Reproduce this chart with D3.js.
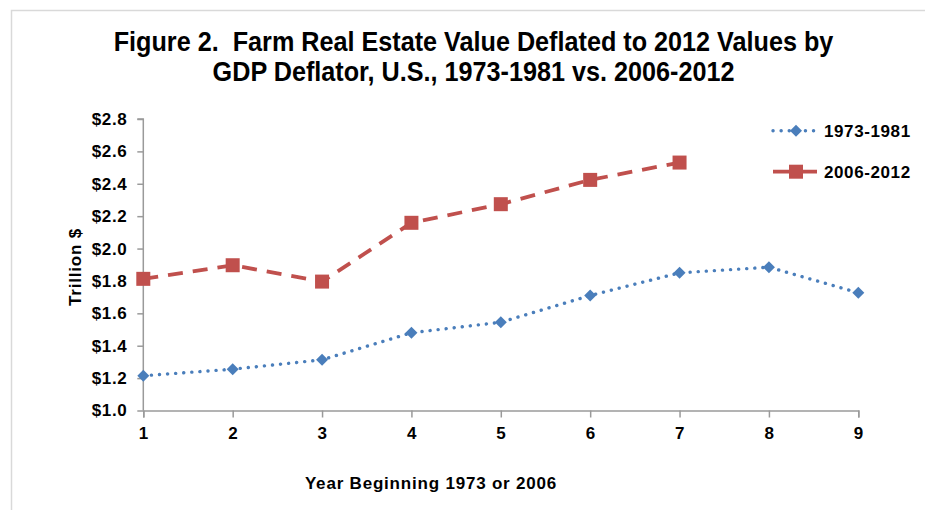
<!DOCTYPE html>
<html><head><meta charset="utf-8">
<script src="https://cdn.jsdelivr.net/npm/d3@7"></script>
<style>body{margin:0;background:#fff}svg{display:block}</style>
</head><body>
<script>
const years = [1,2,3,4,5,6,7,8,9];
const series1973 = [1.215,1.255,1.313,1.48,1.545,1.71,1.85,1.885,1.727];
const series2006 = [1.813,1.897,1.796,2.159,2.274,2.424,2.531];
const yTicks = [1.0,1.2,1.4,1.6,1.8,2.0,2.2,2.4,2.6,2.8];
const seriesNames = ["1973-1981","2006-2012"];
const titleLines = ["Figure 2.\u00a0 Farm Real Estate Value Deflated to 2012 Values by","GDP Deflator, U.S., 1973-1981 vs. 2006-2012"];

const W=925,H=510;
const svg=d3.select("body").append("svg").attr("width",W).attr("height",H);
svg.append("rect").attr("x",11.5).attr("y",10.5).attr("width",W).attr("height",H).attr("fill","none").attr("stroke","#d9d9d9").attr("stroke-width",1.5);

const x=d3.scaleLinear().domain([1,9]).range([143.3,858.3]);
const y=d3.scaleLinear().domain([1.0,2.8]).range([410.5,119]);
const axisColor="#9a9a9a";
const font="Liberation Sans, Arial, sans-serif";

// title (condensed bold)
svg.append("g").selectAll("text").data(titleLines).join("text")
  .attr("transform",(d,i)=>`translate(473.5,${51+i*30}) scale(0.9,1)`).attr("text-anchor","middle")
  .attr("font-family",font).attr("font-weight","bold")
  .attr("font-size",28).attr("fill","#000").text(d=>d);

// axes
const yAxis=d3.axisLeft(y).tickValues(yTicks).tickSize(6).tickFormat(d=>"$"+d.toFixed(1));
const gy=svg.append("g").attr("transform",`translate(${x(1)},0)`).call(yAxis);
const xAxis=d3.axisBottom(x).tickValues(years).tickSize(7).tickFormat(d3.format("d"));
const gx=svg.append("g").attr("transform",`translate(0,${y(1.0)})`).call(xAxis);
[gx,gy].forEach(g=>{
  g.select(".domain").attr("stroke",axisColor).attr("stroke-width",1.5);
  g.selectAll(".tick line").attr("stroke",axisColor).attr("stroke-width",1.5);
  g.selectAll("text").attr("font-family",font).attr("font-weight","bold").attr("font-size",17)
    .attr("letter-spacing",0.6).attr("fill","#000");
});
gy.select(".domain").attr("d",`M-6,${y(2.8)}H0V${y(1.0)}`);
gy.selectAll(".tick text").attr("x",-16);
gx.selectAll(".tick text").attr("y",16);

// axis titles
svg.append("text").attr("transform",`translate(81,267) rotate(-90)`).attr("text-anchor","middle")
  .attr("font-family",font).attr("font-weight","bold").attr("font-size",17).attr("letter-spacing",0.8).text("Trillion $");
svg.append("text").attr("x",431).attr("y",489).attr("text-anchor","middle")
  .attr("font-family",font).attr("font-weight","bold").attr("font-size",17).attr("letter-spacing",0.8).text("Year Beginning 1973 or 2006");

const blue="#4a7ebb", red="#c0504d";
const line=d3.line().x(d=>x(d[0])).y(d=>y(d[1]));
const d1=years.map((yr,i)=>[yr,series1973[i]]);
const d2=series2006.map((v,i)=>[years[i],v]);

svg.append("path").datum(d1).attr("d",line).attr("fill","none").attr("stroke",blue)
  .attr("stroke-width",3.4).attr("stroke-dasharray","0.1 8").attr("stroke-linecap","round");
svg.append("path").datum(d2).attr("d",line).attr("fill","none").attr("stroke",red)
  .attr("stroke-width",3.8).attr("stroke-dasharray","15 10");

const diamond=d3.symbol().type(d3.symbolSquare).size(72);
svg.append("g").selectAll("path").data(d1).join("path")
  .attr("d",diamond).attr("transform",d=>`translate(${x(d[0])},${y(d[1])}) rotate(45)`).attr("fill",blue);
svg.append("g").selectAll("rect").data(d2).join("rect")
  .attr("x",d=>x(d[0])-7).attr("y",d=>y(d[1])-7).attr("width",14).attr("height",14).attr("fill",red);

// legend
const lg=svg.append("g");
const ly=[130.7,171.7];
lg.append("line").attr("x1",773).attr("x2",817).attr("y1",ly[0]).attr("y2",ly[0]).attr("stroke",blue)
  .attr("stroke-width",3.4).attr("stroke-dasharray","0.1 8").attr("stroke-linecap","round");
lg.append("path").attr("d",diamond).attr("transform",`translate(796,${ly[0]}) rotate(45)`).attr("fill",blue);
lg.append("line").attr("x1",773).attr("x2",817).attr("y1",ly[1]).attr("y2",ly[1]).attr("stroke",red).attr("stroke-width",3.8);
lg.append("rect").attr("x",789).attr("y",ly[1]-7).attr("width",14).attr("height",14).attr("fill",red);
lg.selectAll("text").data(seriesNames).join("text").attr("x",824).attr("y",(d,i)=>ly[i]+6)
  .attr("font-family",font).attr("font-weight","bold").attr("font-size",17).attr("letter-spacing",0.6).text(d=>d);
</script>
</body></html>
